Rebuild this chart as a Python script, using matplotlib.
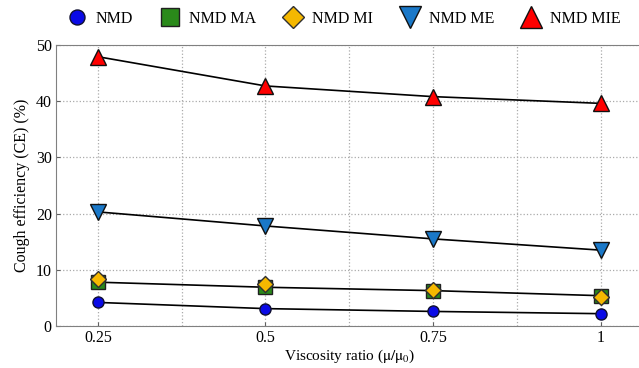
import numpy as np
import matplotlib
matplotlib.use("Agg")
import matplotlib.pyplot as plt
from matplotlib.ticker import MultipleLocator

# ------------------------------------------------------------------
# Data
# ------------------------------------------------------------------
viscosity = [0.25, 0.5, 0.75, 1.0]
xtick_labels = ["0.25", "0.5", "0.75", "1"]

ce_nmd     = [4.2, 3.1, 2.6, 2.2]
ce_nmd_ma  = [7.8, 6.9, 6.3, 5.4]
ce_nmd_mi  = [8.4, 7.4, 6.4, 5.2]
ce_nmd_me  = [20.3, 17.8, 15.5, 13.5]
ce_nmd_mie = [47.9, 42.7, 40.8, 39.6]

plt.rcParams["font.family"] = ["Liberation Serif", "DejaVu Serif"]
plt.rcParams["mathtext.fontset"] = "stix"

fig = plt.figure(figsize=(6.39, 3.68), dpi=100)
ax = fig.add_axes([0.0876, 0.114, 0.918, 0.764])

# lines first (black), then markers on top
for vals in (ce_nmd, ce_nmd_ma, ce_nmd_me, ce_nmd_mie):
    ax.plot(viscosity, vals, color="black", linewidth=1.2, zorder=2)

h1, = ax.plot(viscosity, ce_nmd, "o", ms=8, mfc="#0a0ae6", mec="#101030",
              mew=1.0, label="NMD", zorder=3)
h2, = ax.plot(viscosity, ce_nmd_ma, "s", ms=10, mfc="#2a8a1a", mec="#202020",
              mew=1.0, label="NMD MA", zorder=3)
h3, = ax.plot(viscosity, ce_nmd_mi, "D", ms=8, mfc="#f5b800", mec="#303030",
              mew=1.0, label="NMD MI", zorder=4)
h4, = ax.plot(viscosity, ce_nmd_me, "v", ms=12, mfc="#1a78c8", mec="#101010",
              mew=1.0, label="NMD ME", zorder=3)
h5, = ax.plot(viscosity, ce_nmd_mie, "^", ms=12, mfc="#ff0000", mec="#101010",
              mew=1.0, label="NMD MIE", zorder=3)

ax.set_xlim(0.1875, 1.0625)
ax.set_ylim(0, 50)
ax.set_xticks(viscosity)
ax.set_xticklabels(xtick_labels)
ax.xaxis.set_minor_locator(MultipleLocator(0.125))
ax.yaxis.set_major_locator(MultipleLocator(10))
ax.tick_params(axis="both", which="both", direction="in", labelsize=11.5,
               length=3, color="#606060", pad=3)
ax.tick_params(axis="x", which="minor", length=0)
ax.grid(True, which="both", linestyle=":", color="#aaaaaa", linewidth=0.9)
ax.set_axisbelow(True)
for s in ax.spines.values():
    s.set_color("#808080")

ax.set_xlabel(r"Viscosity ratio ($\mathrm{\mu/\mu_0}$)", fontsize=11, labelpad=1)
ax.set_ylabel("Cough efficiency (CE) (%)", fontsize=11.5, labelpad=4)

fig.legend(handles=[h1, h2, h3, h4, h5], loc="upper center",
           bbox_to_anchor=(0.539, 1.01), ncol=5, frameon=False, fontsize=11.5,
           columnspacing=1.8, handlelength=1.1, handletextpad=0.6,
           numpoints=1, markerscale=1.35)

fig.savefig("out.png", dpi=100)
